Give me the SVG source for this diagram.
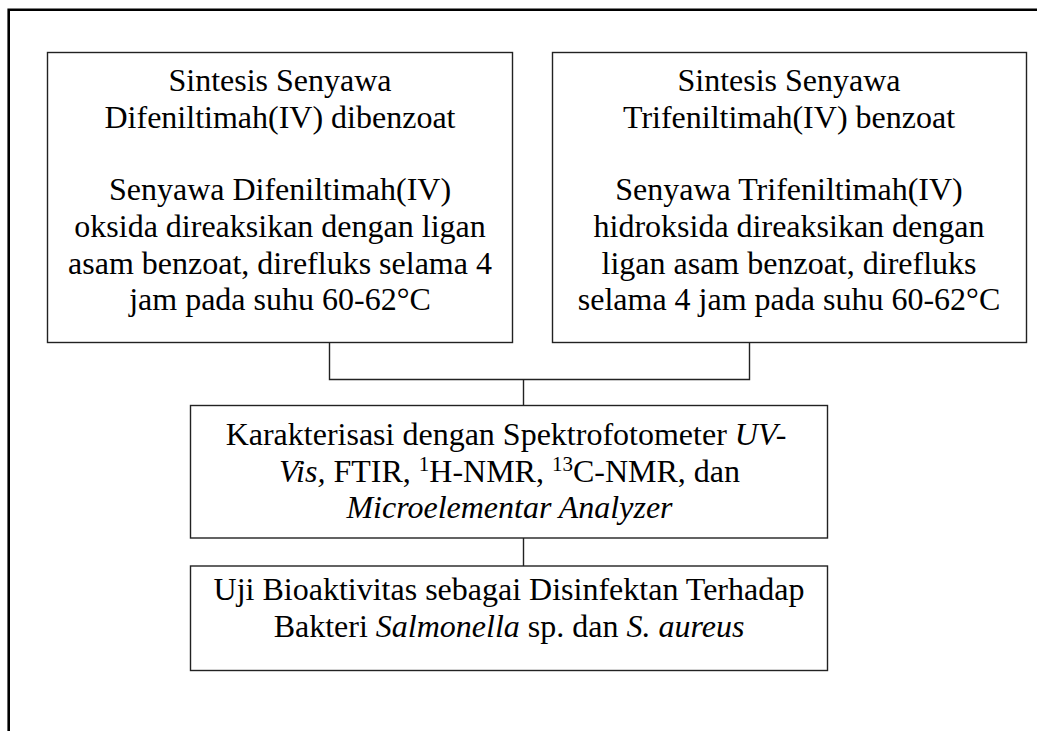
<svg xmlns="http://www.w3.org/2000/svg" width="1037" height="731" viewBox="0 0 1037 731">
<style>
.box{fill:#fff;stroke:#222;stroke-width:1.4}
.conn{fill:none;stroke:#222;stroke-width:1.4}
.frame{fill:none;stroke:#000;stroke-width:2.6}
text{font-family:"Liberation Serif","Times New Roman",serif;font-size:32px;fill:#000;text-anchor:middle}
.it{font-style:italic}
</style>
<rect width="1037" height="731" fill="#fff"/>
<path class="frame" d="M8.7 731 V9.8 H1037"/>
<g id="connectors">
<path class="conn" d="M329.5 342.5 V379.5 H749.5 V342.5"/>
<path class="conn" d="M523.5 379.5 V405.5"/>
<path class="conn" d="M523.5 538 V566"/>
</g>
<g id="node-difenil">
<rect class="box" x="47.5" y="52.5" width="465" height="290"/>
<text x="280" y="91">Sintesis Senyawa</text>
<text x="280" y="127.7">Difeniltimah(IV) dibenzoat</text>
<text x="280" y="200.3">Senyawa Difeniltimah(IV)</text>
<text x="280" y="237">oksida direaksikan dengan ligan</text>
<text x="280" y="273.7">asam benzoat, direfluks selama 4</text>
<text x="280" y="310.4">jam pada suhu 60-62°C</text>
</g>
<g id="node-trifenil">
<rect class="box" x="552.5" y="52.5" width="474" height="290"/>
<text x="789" y="91">Sintesis Senyawa</text>
<text x="789" y="127.7">Trifeniltimah(IV) benzoat</text>
<text x="789" y="200.3">Senyawa Trifeniltimah(IV)</text>
<text x="789" y="237">hidroksida direaksikan dengan</text>
<text x="789" y="273.7">ligan asam benzoat, direfluks</text>
<text x="789" y="310.4">selama 4 jam pada suhu 60-62°C</text>
</g>
<g id="node-karakterisasi">
<rect class="box" x="190.5" y="405.5" width="637" height="132.5"/>
<text x="506" y="445">Karakterisasi dengan Spektrofotometer <tspan class="it">UV-</tspan></text>
<text x="509.5" y="481.7"><tspan class="it">Vis,</tspan> FTIR, <tspan font-size="21" dy="-11">1</tspan><tspan dy="11">H-NMR, </tspan><tspan font-size="21" dy="-11">13</tspan><tspan dy="11">C-NMR, dan</tspan></text>
<text x="509.5" y="518.3" class="it">Microelementar Analyzer</text>
</g>
<g id="node-uji">
<rect class="box" x="190.5" y="566" width="637" height="104.5"/>
<text x="509" y="600">Uji Bioaktivitas sebagai Disinfektan Terhadap</text>
<text x="509" y="636.7">Bakteri <tspan class="it">Salmonella</tspan> sp. dan <tspan class="it">S. aureus</tspan></text>
</g>
</svg>
